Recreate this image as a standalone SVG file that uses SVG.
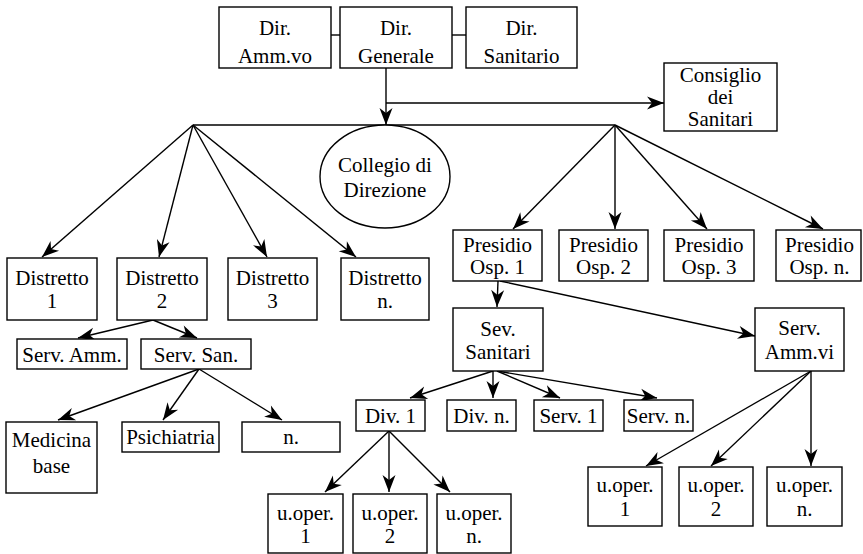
<svg xmlns="http://www.w3.org/2000/svg" width="863" height="554" viewBox="0 0 863 554">
<style>
.b{fill:#fff;stroke:#000;stroke-width:1.4}
.t{font-family:'Liberation Serif','DejaVu Serif',serif;font-size:21px;fill:#000;text-anchor:middle}
.c line{stroke:#000;stroke-width:1.4}
.a{marker-end:url(#ah)}
</style>
<defs>
<marker id="ah" markerUnits="userSpaceOnUse" viewBox="-18 -7 19 14" refX="0" refY="0" markerWidth="19" markerHeight="14" orient="auto">
<path d="M0,0 L-17,-6.5 L-12,0 L-17,6.5 Z" fill="#000"/>
</marker>
</defs>
<rect width="863" height="554" fill="#fff"/>
<g class="c" id="connectors">
<line x1="331" y1="35" x2="340" y2="35"/>
<line x1="452" y1="35" x2="466" y2="35"/>
<line class="a" x1="386" y1="68" x2="386" y2="125"/>
<line class="a" x1="386" y1="103" x2="664" y2="103"/>
<line x1="193" y1="125" x2="615" y2="125"/>
<line class="a" x1="193" y1="125" x2="42" y2="257"/>
<line class="a" x1="193" y1="125" x2="159" y2="257"/>
<line class="a" x1="193" y1="125" x2="267" y2="257"/>
<line class="a" x1="193" y1="125" x2="356" y2="257"/>
<line class="a" x1="615" y1="125" x2="513" y2="229"/>
<line class="a" x1="615" y1="125" x2="615" y2="229"/>
<line class="a" x1="615" y1="125" x2="707" y2="229"/>
<line class="a" x1="615" y1="125" x2="823" y2="229"/>
<line class="a" x1="498" y1="281" x2="497" y2="307"/>
<line class="a" x1="500" y1="281" x2="755" y2="336"/>
<line class="a" x1="153" y1="320" x2="78" y2="338"/>
<line class="a" x1="153" y1="320" x2="197" y2="338"/>
<line class="a" x1="199" y1="369" x2="58" y2="420"/>
<line class="a" x1="199" y1="369" x2="163" y2="420"/>
<line class="a" x1="199" y1="369" x2="282" y2="420"/>
<line class="a" x1="493" y1="371" x2="410" y2="398"/>
<line class="a" x1="493" y1="371" x2="493" y2="398"/>
<line class="a" x1="497" y1="371" x2="560" y2="398"/>
<line class="a" x1="497" y1="371" x2="657" y2="398"/>
<line class="a" x1="389" y1="431" x2="325" y2="492"/>
<line class="a" x1="389" y1="431" x2="389" y2="492"/>
<line class="a" x1="389" y1="431" x2="450" y2="492"/>
<line class="a" x1="811" y1="371" x2="646" y2="466"/>
<line class="a" x1="811" y1="371" x2="711" y2="466"/>
<line class="a" x1="811" y1="371" x2="811" y2="466"/>
</g>
<g id="dir_amm"><rect class="b" x="219" y="7" width="112" height="61"/><text class="t" x="275" y="35">Dir.</text><text class="t" x="275" y="63">Amm.vo</text></g>
<g id="dir_gen"><rect class="b" x="340" y="7" width="112" height="61"/><text class="t" x="396" y="35">Dir.</text><text class="t" x="396" y="63">Generale</text></g>
<g id="dir_san"><rect class="b" x="466" y="7" width="111" height="61"/><text class="t" x="521.5" y="35">Dir.</text><text class="t" x="521.5" y="63">Sanitario</text></g>
<g id="consiglio"><rect class="b" x="664" y="63" width="113" height="68"/><text class="t" x="720.5" y="82">Consiglio</text><text class="t" x="720.5" y="104">dei</text><text class="t" x="720.5" y="126">Sanitari</text></g>
<g id="collegio"><ellipse class="b" cx="385" cy="176.5" rx="65" ry="51.5"/><text class="t" x="385" y="172">Collegio di</text><text class="t" x="385" y="197">Direzione</text></g>
<g id="distretto1"><rect class="b" x="7" y="258" width="90" height="62"/><text class="t" x="52" y="285">Distretto</text><text class="t" x="52" y="308">1</text></g>
<g id="distretto2"><rect class="b" x="117" y="258" width="90" height="62"/><text class="t" x="162" y="285">Distretto</text><text class="t" x="162" y="308">2</text></g>
<g id="distretto3"><rect class="b" x="228" y="258" width="89" height="62"/><text class="t" x="272.5" y="285">Distretto</text><text class="t" x="272.5" y="308">3</text></g>
<g id="distretto_n"><rect class="b" x="341" y="258" width="88" height="62"/><text class="t" x="385" y="285">Distretto</text><text class="t" x="385" y="308">n.</text></g>
<g id="serv_amm"><rect class="b" x="17" y="339" width="110" height="30"/><text class="t" x="72" y="361.5">Serv. Amm.</text></g>
<g id="serv_san"><rect class="b" x="141" y="339" width="110" height="30"/><text class="t" x="196" y="361.5">Serv. San.</text></g>
<g id="medicina"><rect class="b" x="6" y="422" width="91" height="71"/><text class="t" x="51.5" y="447">Medicina</text><text class="t" x="51.5" y="473">base</text></g>
<g id="psichiatria"><rect class="b" x="122" y="422" width="97" height="30"/><text class="t" x="170.5" y="443.5">Psichiatria</text></g>
<g id="n_dist"><rect class="b" x="242" y="422" width="98" height="30"/><text class="t" x="291" y="443.5">n.</text></g>
<g id="presidio1"><rect class="b" x="453" y="230" width="89" height="51"/><text class="t" x="497.5" y="252">Presidio</text><text class="t" x="497.5" y="274">Osp. 1</text></g>
<g id="presidio2"><rect class="b" x="559" y="230" width="89" height="51"/><text class="t" x="603.5" y="252">Presidio</text><text class="t" x="603.5" y="274">Osp. 2</text></g>
<g id="presidio3"><rect class="b" x="664" y="230" width="90" height="51"/><text class="t" x="709" y="252">Presidio</text><text class="t" x="709" y="274">Osp. 3</text></g>
<g id="presidio_n"><rect class="b" x="776" y="230" width="85" height="51"/><text class="t" x="819.5" y="252">Presidio</text><text class="t" x="819.5" y="274">Osp. n.</text></g>
<g id="sev_sanitari"><rect class="b" x="453" y="308" width="90" height="63"/><text class="t" x="498" y="336">Sev.</text><text class="t" x="498" y="358.5">Sanitari</text></g>
<g id="serv_ammvi"><rect class="b" x="755" y="308" width="89" height="63"/><text class="t" x="799.5" y="335">Serv.</text><text class="t" x="799.5" y="358.5">Amm.vi</text></g>
<g id="div1"><rect class="b" x="356" y="400" width="69" height="31"/><text class="t" x="390.5" y="422.5">Div. 1</text></g>
<g id="divn"><rect class="b" x="447" y="400" width="69" height="31"/><text class="t" x="481.5" y="422.5">Div. n.</text></g>
<g id="serv1"><rect class="b" x="534" y="400" width="69" height="31"/><text class="t" x="568.5" y="422.5">Serv. 1</text></g>
<g id="servn"><rect class="b" x="624" y="400" width="69" height="31"/><text class="t" x="658.5" y="422.5">Serv. n.</text></g>
<g id="uop_d1"><rect class="b" x="268" y="494" width="75" height="59"/><text class="t" x="305.5" y="520">u.oper.</text><text class="t" x="305.5" y="543">1</text></g>
<g id="uop_d2"><rect class="b" x="353" y="494" width="74" height="59"/><text class="t" x="390" y="520">u.oper.</text><text class="t" x="390" y="543">2</text></g>
<g id="uop_dn"><rect class="b" x="437" y="494" width="74" height="59"/><text class="t" x="474" y="520">u.oper.</text><text class="t" x="474" y="543">n.</text></g>
<g id="uop_a1"><rect class="b" x="588" y="467" width="74" height="59"/><text class="t" x="625" y="492">u.oper.</text><text class="t" x="625" y="516">1</text></g>
<g id="uop_a2"><rect class="b" x="679" y="467" width="74" height="59"/><text class="t" x="716" y="492">u.oper.</text><text class="t" x="716" y="516">2</text></g>
<g id="uop_an"><rect class="b" x="767" y="467" width="75" height="59"/><text class="t" x="804.5" y="492">u.oper.</text><text class="t" x="804.5" y="516">n.</text></g>
</svg>
